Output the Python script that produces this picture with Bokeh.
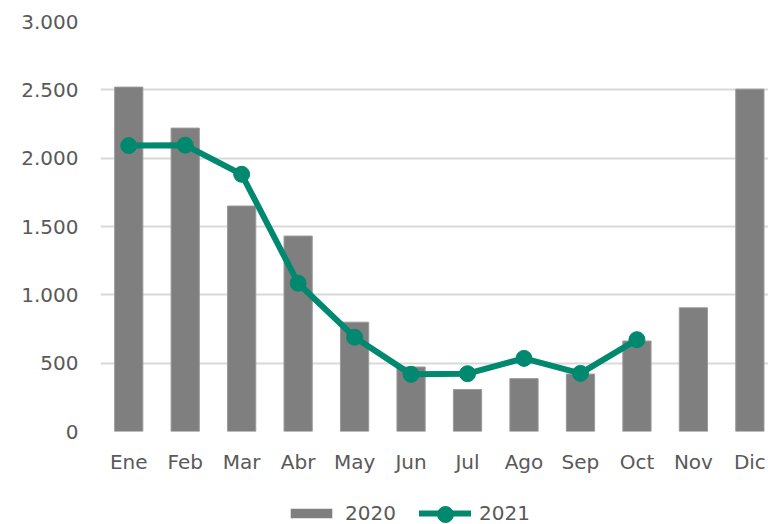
from bokeh.plotting import figure
from bokeh.layouts import column
from bokeh.models import Legend, LegendItem, Range1d, FixedTicker
from bokeh.embed import file_html
from bokeh.resources import INLINE

# ---- data ----
months = ["Ene", "Feb", "Mar", "Abr", "May", "Jun", "Jul", "Ago", "Sep", "Oct", "Nov", "Dic"]
v2020 = [2520, 2220, 1650, 1430, 800, 472, 307, 387, 420, 662, 905, 2505]
v2021 = [2092, 2095, 1882, 1085, 690, 418, 423, 535, 425, 672]
y_ticks = [0, 500, 1000, 1500, 2000, 2500, 3000]
y_tick_labels = ["0", "500", "1.000", "1.500", "2.000", "2.500", "3.000"]
series_names = ["2020", "2021"]

GRAY = "#7f7f7f"
TEAL = "#00896f"
TXT = "#595959"
FONT = "DejaVu Sans"

x20 = list(range(len(months)))
x21 = list(range(len(v2021)))

p = figure(width=768, height=476, output_backend="svg", toolbar_location=None,
           x_range=Range1d(-0.5, 11.33), y_range=Range1d(0, 3000),
           min_border_left=100, min_border_right=0, min_border_top=21, min_border_bottom=45)
p.outline_line_color = None
p.background_fill_color = "white"
p.border_fill_color = "white"

bar_style = dict(fill_color=GRAY, line_color="#9a9a9a", line_width=1)
line_style = dict(line_color=TEAL, line_width=6, line_join="round", line_cap="round")
pt_style = dict(size=16, fill_color=TEAL, line_color=TEAL)

p.vbar(x=x20, top=v2020, width=0.5, **bar_style)
p.line(x=x21, y=v2021, **line_style)
p.scatter(x=x21, y=v2021, **pt_style)

# axes
p.xaxis.ticker = FixedTicker(ticks=x20)
p.xaxis.major_label_overrides = {i: m for i, m in enumerate(months)}
p.yaxis.ticker = FixedTicker(ticks=y_ticks)
p.yaxis.major_label_overrides = {t: l for t, l in zip(y_ticks, y_tick_labels)}
for ax in (p.xaxis, p.yaxis):
    ax.axis_line_color = None
    ax.major_tick_line_color = None
    ax.minor_tick_line_color = None
    ax.major_label_text_font = FONT
    ax.major_label_text_font_size = "20px"
    ax.major_label_text_color = TXT
p.yaxis.major_label_standoff = 16
p.xaxis.major_label_standoff = 12

p.xgrid.grid_line_color = None
p.ygrid.ticker = FixedTicker(ticks=y_ticks)
p.ygrid.grid_line_color = "#d9d9d9"
p.ygrid.grid_line_width = 2

# legend strip below the chart (its renderers hold the series, placed outside the visible ranges)
lg = figure(width=768, height=48, output_backend="svg", toolbar_location=None,
            x_range=Range1d(-100, -99), y_range=Range1d(5000, 6000),
            x_axis_location=None, y_axis_location=None,
            min_border_left=100, min_border_right=0, min_border_top=0, min_border_bottom=0)
lg.grid.grid_line_color = None
lg.outline_line_color = None
lg.background_fill_color = "white"
lg.border_fill_color = "white"
r_bar = lg.vbar(x=x20, top=v2020, width=0.5, fill_color=GRAY, line_color=None)
r_line = lg.line(x=x21, y=v2021, **line_style)
r_pt = lg.scatter(x=x21, y=v2021, **pt_style)

leg_common = dict(orientation="horizontal", label_standoff=8,
                  padding=0, margin=0, border_line_color=None, background_fill_alpha=0,
                  label_text_font=FONT, label_text_font_size="20px", label_text_color=TXT)
legend1 = Legend(items=[LegendItem(label=series_names[0], renderers=[r_bar])],
                 location=(185, -1), glyph_width=52, glyph_height=12, **leg_common)
legend2 = Legend(items=[LegendItem(label=series_names[1], renderers=[r_line])],
                 location=(319, -1), glyph_width=52, glyph_height=12, **leg_common)
# marker of the 2021 swatch (a larger glyph box gives the marker its size)
legend3 = Legend(items=[LegendItem(label="", renderers=[r_pt])],
                 location=(325, -10), glyph_width=40, glyph_height=40, **leg_common)
lg.add_layout(legend1, "center")
lg.add_layout(legend2, "center")
lg.add_layout(legend3, "center")

layout = column(p, lg, spacing=0)
open("out.html", "w").write(file_html(layout, INLINE))
